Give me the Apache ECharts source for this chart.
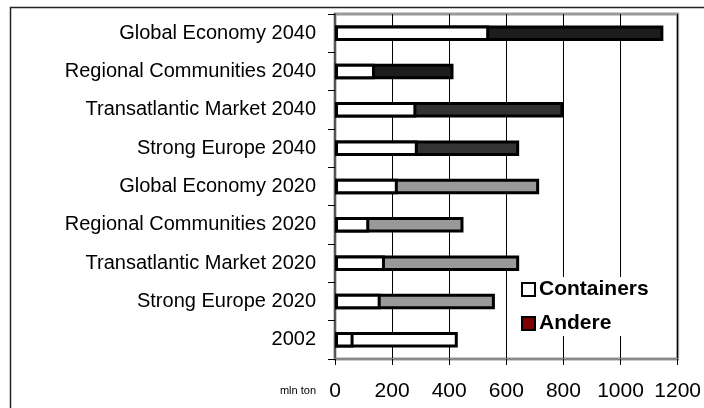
<!DOCTYPE html>
<html><head><meta charset="utf-8">
<script src="https://cdn.jsdelivr.net/npm/echarts@6/dist/echarts.min.js"></script>
<style>html,body{margin:0;padding:0;background:#fff}#c{width:704px;height:408px}</style>
</head><body><div id="c"></div>
<script>
var categories = ['Global Economy 2040','Regional Communities 2040','Transatlantic Market 2040','Strong Europe 2040','Global Economy 2020','Regional Communities 2020','Transatlantic Market 2020','Strong Europe 2020','2002'];
var containers = [540,140,285,290,220,120,175,160,65];
var andere = [610,275,515,355,495,330,470,400,365];
var xTicks = [0,200,400,600,800,1000,1200];
var unitLabel = 'mln ton';
var andereColors = ['#1c1c1c','#1c1c1c','#333333','#333333','#999999','#999999','#999999','#999999','#ffffff'];

var FONT = '"Liberation Sans", Arial, sans-serif';
// Andere drawn as the full stacked bar (containers + andere) behind the containers bar
var stackedTotal = andere.map(function(v, i){ return containers[i] + v; });

var chart = echarts.init(document.getElementById('c'));
chart.setOption({
  animation: false,
  backgroundColor: '#fff',
  textStyle: {fontFamily: FONT},
  grid: {left: 335, right: 21, top: 14, bottom: 49, show: true, borderColor: '#999', borderWidth: 3, backgroundColor: 'transparent'},
  xAxis: {
    type: 'value', min: xTicks[0], max: xTicks[xTicks.length-1], interval: 200,
    axisLine: {show: true, lineStyle: {color: '#888', width: 2}},
    axisTick: {show: true, length: 6, lineStyle: {color: '#000'}},
    axisLabel: {color: '#000', fontSize: 21, margin: 22, fontFamily: FONT,
      formatter: function(v){ return xTicks.indexOf(v) >= 0 ? String(v) : ''; }},
    splitLine: {show: true, lineStyle: {color: '#000', width: 1}}
  },
  yAxis: {
    type: 'category', data: categories, inverse: true,
    axisLine: {show: true, lineStyle: {color: '#555', width: 2}},
    axisTick: {show: true, length: 7, lineStyle: {color: '#000'}},
    axisLabel: {color: '#000', fontSize: 20, margin: 19, fontFamily: FONT},
    splitLine: {show: false}
  },
  legend: {
    orient: 'vertical', left: 517, top: 277, padding: [2, 6, 2, 4],
    backgroundColor: '#fff', itemWidth: 13, itemHeight: 13, itemGap: 13,
    icon: 'rect',
    textStyle: {fontSize: 21, fontWeight: 'bold', color: '#000', fontFamily: FONT, padding: [0,0,0,-1]},
    data: [
      {name: 'Containers', itemStyle: {color: '#fff', borderColor: '#000', borderWidth: 2}},
      {name: 'Andere', itemStyle: {color: '#800000', borderColor: '#000', borderWidth: 2}}
    ]
  },
  series: [
    {name: 'Andere', type: 'bar', barWidth: 15.5, z: 2,
     data: stackedTotal.map(function(v, i){ return {value: v, itemStyle: {color: andereColors[i]}}; }),
     itemStyle: {color: '#800000', borderColor: '#000', borderWidth: 3}},
    {name: 'Containers', type: 'bar', barWidth: 15.5, barGap: '-100%', z: 3, data: containers,
     itemStyle: {color: '#fff', borderColor: '#000', borderWidth: 3}}
  ],
  graphic: [
    {type: 'rect', shape: {x: 10.5, y: 7.5, width: 760, height: 460}, style: {fill: 'none', stroke: '#222', lineWidth: 1.5}, z: 100, silent: true},
    {type: 'text', x: 316, y: 391, style: {text: unitLabel, fontSize: 11, fontFamily: FONT, fill: '#000', textAlign: 'right', textVerticalAlign: 'middle'}}
  ]
});
</script></body></html>
